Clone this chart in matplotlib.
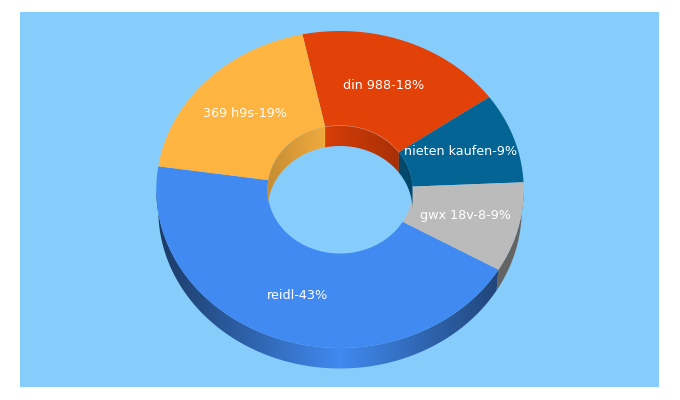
import numpy as np
import matplotlib
matplotlib.use('Agg')
import matplotlib.pyplot as plt
from matplotlib.colors import to_rgb
from matplotlib.patches import Polygon

#############################################################
# Data
#############################################################
labels = ['din 988-18%', 'nieten kaufen-9%', 'gwx 18v-8-9%', 'reidl-43%', '369 h9s-19%']
values = [18, 9, 9, 43, 19]

#############################################################
# Style
#############################################################
colors = ['#e24108', '#046595', '#bbbbbb', '#418af1', '#fdb441']
bg_color = '#87cdfb'
label_xy = [(384, 85.5), (461, 151.5), (465, 215.5), (298, 295.5), (245, 113.5)]

start_angle = -11.8
cx, cy = 340.0, 189.5
rx_out, ry_out = 183.7, 158.5
rx_out_low = 181.7
rx_in, ry_in = 72.5, 64.0
depth = 20.5


def ring_xy(theta, rx, ry):
    # theta in degrees, clockwise from the top of the ring
    t = np.radians(theta)
    return cx + rx*np.sin(t), cy - ry*np.cos(t)


def outer_factor(x):
    return 0.42 + 0.58*(1.0 - np.minimum(np.abs(x - 340.0)/183.7, 1.0))


def inner_factor(x):
    return np.maximum(0.95 - 0.2*np.abs(x - 325.0)/70.0, 0.6)


def flat_factor(x):
    return 0.54 + 0.0*x


def draw_wall(ax, a0, a1, rx_top, rx_low, ry, col, factor, zorder):
    th = np.linspace(a0, a1, 200)
    xt, yt = ring_xy(th, rx_top, ry)
    xb, yb = ring_xy(th[::-1], rx_low, ry)
    yb = yb + depth
    poly = Polygon(np.column_stack((np.concatenate((xt, xb)), np.concatenate((yt, yb)))),
                   closed=True, transform=ax.transData, facecolor='none', edgecolor='none')
    ax.add_patch(poly)
    x_min = min(xt.min(), xb.min()) - 1.0
    x_max = max(xt.max(), xb.max()) + 1.0
    y_min = min(yt.min(), yb.min()) - 1.0
    y_max = max(yt.max(), yb.max()) + 1.0
    x_grid = np.linspace(x_min, x_max, 400)
    img = np.outer(factor(x_grid), np.array(to_rgb(col))).reshape(1, 400, 3)
    im = ax.imshow(img, extent=(x_min, x_max, y_max, y_min), aspect='auto',
                   interpolation='bilinear', zorder=zorder)
    im.set_clip_path(poly)


#############################################################
# Slice angles
#############################################################
spans = np.array(values)/np.sum(values)*360.0
edges = start_angle + np.concatenate(([0.0], np.cumsum(spans)))

#############################################################
# Plotting
#############################################################
fig = plt.figure(figsize=(6.8, 4.0), dpi=100, facecolor='white')
ax = fig.add_axes([0, 0, 1, 1])
ax.axis('off')

ax.fill([20, 659, 659, 20], [12, 12, 387, 387], color=bg_color, lw=0, zorder=0)

# Outer wall, only the near half can be seen
for cont1, col in enumerate(colors):
    a0 = max(edges[cont1], 90.0)
    a1 = min(edges[cont1+1], 270.0)
    if a1 <= a0:
        continue
    # end if
    fac = flat_factor if col == '#bbbbbb' else outer_factor
    draw_wall(ax, a0, a1, rx_out, rx_out_low, ry_out, col, fac, 1)
# end for

# Top faces
for cont1, col in enumerate(colors):
    th = np.linspace(edges[cont1], edges[cont1+1], 200)
    xo, yo = ring_xy(th, rx_out, ry_out)
    xi, yi = ring_xy(th[::-1], rx_in, ry_in)
    ax.fill(np.concatenate((xo, xi)), np.concatenate((yo, yi)), color=col, lw=0, zorder=2)
# end for

# Inner wall, only the far half can be seen
draw_wall(ax, -90.0, edges[0], rx_in, rx_in, ry_in, colors[4], inner_factor, 3)
draw_wall(ax, edges[0], edges[1], rx_in, rx_in, ry_in, colors[0], inner_factor, 3)
draw_wall(ax, edges[1], 90.0, rx_in, rx_in, ry_in, colors[1], inner_factor, 3)

# Faint rim on top of the red inner wall
th = np.linspace(edges[0], edges[1], 100)
xr, yr = ring_xy(th, rx_in, ry_in)
ax.plot(xr, yr, color='#ee8a66', lw=0.6, alpha=0.6, zorder=4)

# Data labels
for cont1, txt in enumerate(labels):
    ax.text(label_xy[cont1][0], label_xy[cont1][1], txt, color='white', fontsize=9.2,
            family='DejaVu Sans', ha='center', va='center', zorder=5)
# end for

ax.set_xlim(0, 680)
ax.set_ylim(400, 0)

fig.savefig('out.png', dpi=100, facecolor='white')
plt.close(fig)
